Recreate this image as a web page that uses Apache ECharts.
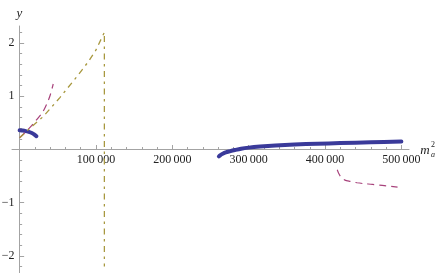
<!DOCTYPE html>
<html><head><meta charset="utf-8">
<script src="https://cdn.jsdelivr.net/npm/echarts@6/dist/echarts.min.js"></script>
<style>html,body{margin:0;padding:0;background:#fff}#c{width:436px;height:273px}</style>
</head><body><div id="c"></div>
<script>
// ---- tick values and labels ----
const xMajorTicks = [100000, 200000, 300000, 400000, 500000];
const xTickLabels = ['100\u2009000', '200\u2009000', '300\u2009000', '400\u2009000', '500\u2009000'];
const xMinorTicks = [20000, 40000, 60000, 80000, 120000, 140000, 160000, 180000, 220000, 240000, 260000, 280000,
  320000, 340000, 360000, 380000, 420000, 440000, 460000, 480000];
const yMajorTicks = [-2, -1, 1, 2];
const yTickLabels = ['\u22122', '\u22121', '1', '2'];
const yMinorTicks = [-2.2, -1.8, -1.6, -1.4, -1.2, -0.8, -0.6, -0.4, -0.2, 0.2, 0.4, 0.6, 0.8, 1.2, 1.4, 1.6, 1.8, 2.2];

// ---- series values ([m_a^2, y]) ----
const blueLow = [[0, 0.36], [4000, 0.355], [8000, 0.345], [12000, 0.33], [16000, 0.31], [19000, 0.285], [22000, 0.25]];
const blueHigh = [[261000, -0.13], [263000, -0.105], [266000, -0.08], [270000, -0.055], [275000, -0.035], [282000, -0.01],
  [290000, 0.015], [300000, 0.035], [315000, 0.055], [335000, 0.075], [360000, 0.093], [390000, 0.108],
  [420000, 0.12], [460000, 0.135], [500000, 0.15]];
const purpleLow = [[0, 0.22], [10000, 0.36], [20000, 0.52], [30000, 0.7], [36000, 0.87], [40000, 1.02], [44000, 1.23]];
const purpleHigh = [[416000, -0.38], [418000, -0.45], [421000, -0.52], [426000, -0.575], [433000, -0.6], [442000, -0.625],
  [450000, -0.64], [462000, -0.655], [475000, -0.675], [495000, -0.705]];
const yellowCurve = [[0, 0.22], [15000, 0.42], [31000, 0.62], [53000, 0.98], [75000, 1.37], [90000, 1.65],
  [100000, 1.87], [107000, 2.08], [111000, 2.2], [111000, -2.2]];

const axisGray = '#a3a3a3';
const txt = '#222';
const serif = '"Liberation Serif", "DejaVu Serif", serif';
const X0 = -10000, X1 = 510000, Y0 = -2.32, Y1 = 2.32;

const chart = echarts.init(document.getElementById('c'), null, {renderer: 'canvas'});
chart.setOption({
  animation: false,
  backgroundColor: '#fff',
  grid: [
    // 0: plot area (series, axis lines + ticks on zero)
    {left: 12, width: 397, top: 26, height: 247, containLabel: false, outerBoundsMode: 'none'},
    // 1: x tick labels (bottom edge on y = 0)
    {left: 12, width: 397, top: 26, height: 123.5, containLabel: false, outerBoundsMode: 'none'},
    // 2: y tick labels (left edge on x = 0)
    {left: 19.5, width: 389.5, top: 26, height: 247, containLabel: false, outerBoundsMode: 'none'}
  ],
  xAxis: [
    {
      gridIndex: 0, type: 'value', min: X0, max: X1, position: 'bottom',
      axisLine: {onZero: true, lineStyle: {color: axisGray, width: 1}},
      axisTick: {customValues: xMajorTicks, inside: true, length: 4.5, lineStyle: {color: axisGray}},
      axisLabel: {show: false},
      splitLine: {show: false}
    },
    {
      gridIndex: 0, type: 'value', min: X0, max: X1, position: 'top',
      axisLine: {show: false, onZero: true, onZeroAxisIndex: 0},
      axisTick: {customValues: xMinorTicks, inside: false, length: 2.5, lineStyle: {color: axisGray}},
      axisLabel: {show: false},
      splitLine: {show: false}
    },
    {
      gridIndex: 1, type: 'value', min: X0, max: X1, position: 'bottom',
      axisLine: {show: false, onZero: false},
      axisTick: {show: false},
      axisLabel: {customValues: xMajorTicks, formatter: v => xTickLabels[xMajorTicks.indexOf(v)],
        margin: 4, color: txt, fontFamily: serif, fontSize: 12},
      splitLine: {show: false}
    },
    {gridIndex: 2, type: 'value', min: 0, max: X1, show: false}
  ],
  yAxis: [
    {
      gridIndex: 0, type: 'value', min: Y0, max: Y1, position: 'left',
      axisLine: {onZero: true, lineStyle: {color: axisGray, width: 1}},
      axisTick: {customValues: yMajorTicks, inside: true, length: 4.5, lineStyle: {color: axisGray}},
      axisLabel: {show: false},
      splitLine: {show: false}
    },
    {
      gridIndex: 0, type: 'value', min: Y0, max: Y1, position: 'right',
      axisLine: {show: false, onZero: true, onZeroAxisIndex: 0},
      axisTick: {customValues: yMinorTicks, inside: false, length: 2.5, lineStyle: {color: axisGray}},
      axisLabel: {show: false},
      splitLine: {show: false}
    },
    {gridIndex: 1, type: 'value', min: 0, max: Y1, show: false},
    {
      gridIndex: 2, type: 'value', min: Y0, max: Y1, position: 'left',
      axisLine: {show: false, onZero: false},
      axisTick: {show: false},
      axisLabel: {customValues: yMajorTicks, formatter: v => yTickLabels[yMajorTicks.indexOf(v)],
        margin: 5, color: txt, fontFamily: serif, fontSize: 12},
      splitLine: {show: false}
    }
  ],
  series: [
    {type: 'line', xAxisIndex: 0, yAxisIndex: 0, data: blueLow, showSymbol: false, smooth: 0.3, lineStyle: {color: '#3a3a9a', width: 4, cap: 'round'}},
    {type: 'line', xAxisIndex: 0, yAxisIndex: 0, data: blueHigh, showSymbol: false, smooth: 0.3, lineStyle: {color: '#3a3a9a', width: 4, cap: 'round'}},
    {type: 'line', xAxisIndex: 0, yAxisIndex: 0, data: purpleLow, showSymbol: false, smooth: 0.3, lineStyle: {color: '#a8437c', width: 1.2, type: [7, 5]}},
    {type: 'line', xAxisIndex: 0, yAxisIndex: 0, data: purpleHigh, showSymbol: false, smooth: 0.3, lineStyle: {color: '#a8437c', width: 1.2, type: [7, 5]}},
    {type: 'line', xAxisIndex: 0, yAxisIndex: 0, data: yellowCurve, showSymbol: false, lineStyle: {color: '#a8983f', width: 1.3, type: [6, 4.5, 2.5, 4.5]}}
  ],
  graphic: [
    {type: 'text', x: 19.5, y: 13.5, style: {text: 'y', font: 'italic 13px ' + serif, fill: txt, align: 'center', verticalAlign: 'middle'}},
    {type: 'text', x: 425, y: 151, style: {text: 'm', font: 'italic 13px ' + serif, fill: txt, align: 'center', verticalAlign: 'middle'}},
    {type: 'text', x: 433, y: 145, style: {text: '2', font: '8px ' + serif, fill: txt, align: 'center', verticalAlign: 'middle'}},
    {type: 'text', x: 433, y: 155, style: {text: 'a', font: 'italic 8px ' + serif, fill: txt, align: 'center', verticalAlign: 'middle'}}
  ]
});
</script>
</body></html>
